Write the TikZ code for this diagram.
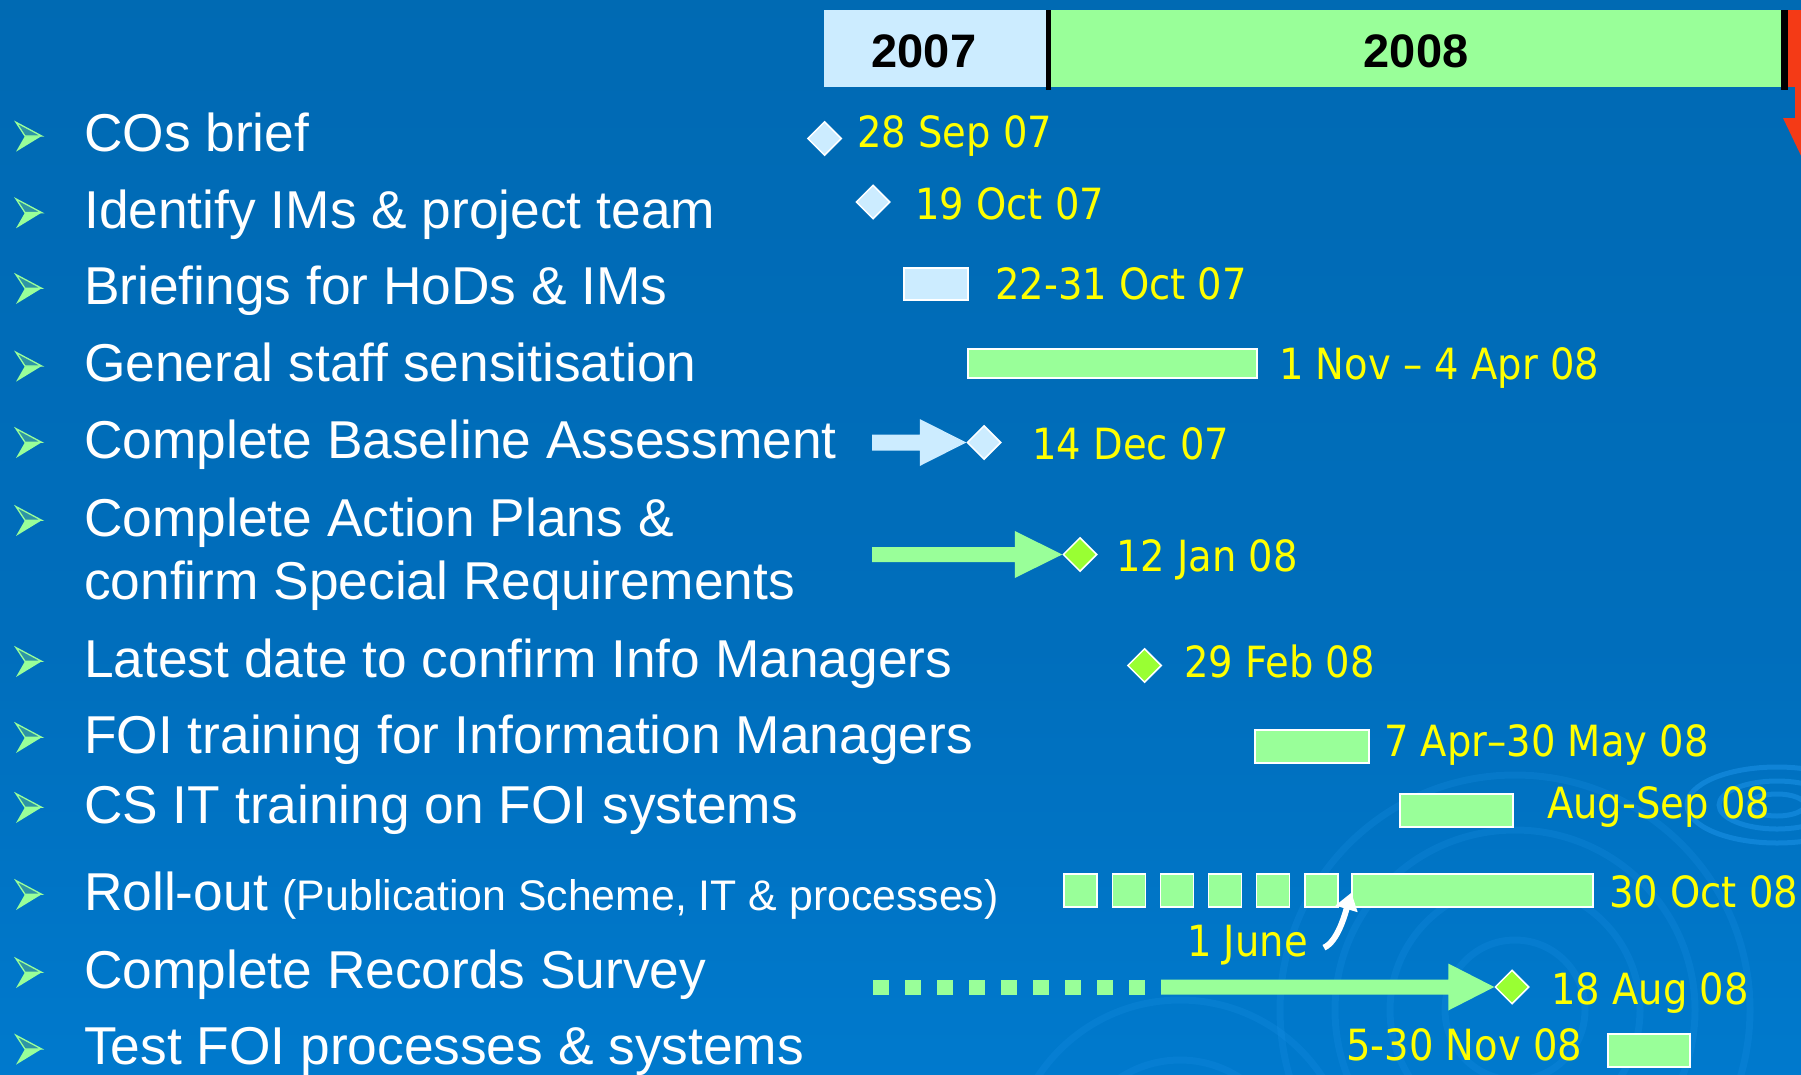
\documentclass[tikz,border=0pt]{standalone}
\usepackage{fontspec}
\setmainfont{Liberation Sans}
\newfontfamily\datefont[FakeStretch=0.895]{DejaVu Sans}
\usetikzlibrary{shapes.geometric,arrows.meta,calc}

\definecolor{bgtop}{RGB}{0,102,172}
\definecolor{bgmid}{RGB}{0,110,188}
\definecolor{bgbot}{RGB}{0,136,226}
\definecolor{lblue}{RGB}{204,236,255}
\definecolor{lgreen}{RGB}{153,255,153}
\definecolor{dgreen}{RGB}{153,255,51}
\definecolor{dyellow}{RGB}{255,255,0}
\definecolor{redc}{RGB}{244,58,22}
\definecolor{ripple}{RGB}{30,150,235}

\pgfdeclareverticalshading{bgshade}{100bp}{color(0bp)=(bgbot); color(45bp)=(bgmid); color(100bp)=(bgtop)}

\begin{document}
\begin{tikzpicture}[x=1pt,y=-1pt,
  lab/.style={anchor=base west, inner sep=0pt, text=white, font=\fontsize{53.3}{60}\selectfont},
  dat/.style={anchor=base west, inner sep=0pt, text=dyellow, font=\datefont\fontsize{43}{50}\selectfont},
  yr/.style={anchor=base, inner sep=0pt, text=black, font=\bfseries\fontsize{47}{54}\selectfont},
  msb/.style={diamond, aspect=1, minimum width=34pt, minimum height=34pt, inner sep=0pt, fill=lblue, draw=white, line width=1.5pt},
  msg/.style={msb, fill=dgreen},
  barb/.style={rectangle, inner sep=0pt, fill=lblue, draw=white, line width=1.2pt},
  barg/.style={barb, fill=lgreen},
  yearbox/.style={rectangle, inner sep=0pt, anchor=north west, minimum height=77pt},
  bul/.pic={
    \fill[lgreen] (25,-15.7) -- (41.7,-15.7) -- (16,0) -- cycle;
    \filldraw[draw=lgreen, fill=lgreen!30!bgtop, line width=1.3pt, line join=miter] (16,-29.4) -- (41.7,-15.7) -- (25,-15.7) -- cycle;
  }
]
\useasboundingbox (0,0) rectangle (1801,1074);
\clip (0,0) rectangle (1801,1074);
\shade[shading=bgshade] (0,0) rectangle (1801,1074);

% faint ripples in the background
\begin{scope}[draw=ripple, opacity=0.5, line width=5pt]
  \draw (1777,805) ellipse [x radius=28pt, y radius=11pt];
  \draw (1777,805) ellipse [x radius=58pt, y radius=24pt];
  \draw (1777,805) ellipse [x radius=90pt, y radius=38pt];
\end{scope}
\begin{scope}[draw=ripple, opacity=0.2, line width=7pt]
  \draw (1515,1010) circle [radius=70pt];
  \draw (1515,1010) circle [radius=125pt];
  \draw (1515,1010) circle [radius=180pt];
  \draw (1515,1010) circle [radius=235pt];
  \draw (1180,1170) circle [radius=110pt];
  \draw (1180,1170) circle [radius=170pt];
\end{scope}

% year bar
\node[yearbox, fill=lblue, minimum width=224pt] (y7) at (824,10) {};
\node[yearbox, fill=lgreen, minimum width=736pt] (y8) at (1048,10) {};
\fill[redc] (1786,10) rectangle (1801,87);
\fill[redc] (1795,87) -- (1795,118) -- (1783,118) -- (1815,185) -- (1850,118) -- (1850,87) -- cycle;
\draw[black, line width=5pt] (y7.north east) -- ++(0,80);
\draw[black, line width=7pt] ($(y8.north east)+(0.5,0)$) -- ++(0,80);
\node[yr] (t7) at (924,67) {2007};
\node[yr] (t8) at (1416,67) {2008};

% bullets
\foreach \b in {151.7,228.3,304,381.7,458,536,677,753,823,910,988,1064.7}
  \pic at (0,\b) {bul};

% labels
\node[lab] (l1) at (84,151.7) {COs brief};
\node[lab] (l2) at (84,228.3) {Identify IMs \& project team};
\node[lab] (l3) at (84,304) {Briefings for HoDs \& IMs};
\node[lab] (l4) at (84,381.7) {General staff sensitisation};
\node[lab] (l5) at (84,458) {Complete Baseline Assessment};
\node[lab] (l6a) at (84,536) {Complete Action Plans \&};
\node[lab] (l6b) at (84,599) {confirm Special Requirements};
\node[lab] (l7) at (84,677) {Latest date to confirm Info Managers};
\node[lab] (l8) at (84,753) {FOI training for Information Managers};
\node[lab] (l9) at (84,823) {CS IT training on FOI systems};
\node[lab] (l10) at (84,910) {Roll-out {\fontsize{42.8}{48}\selectfont (Publication Scheme, IT \& processes)}};
\node[lab] (l11) at (84,988) {Complete Records Survey};
\node[lab] (l12) at (84,1064.7) {Test FOI processes \& systems};

% row 1
\node[msb] (m1) at (824.5,138.5) {};
\node[dat] (d1) at (857,147) {28 Sep 07};
% row 2
\node[msb] (m2) at (873,202) {};
\node[dat] (d2) at (915,219) {19 Oct 07};
% row 3
\node[barb, minimum width=64pt, minimum height=32pt] (b3) at (936,284) {};
\node[dat] (d3) at (995,299) {22-31 Oct 07};
% row 4
\node[barg, minimum width=289pt, minimum height=29pt] (b4) at (1112.5,363.5) {};
\node[dat] (d4) at (1279,379) {1 Nov – 4 Apr 08};
% row 5
\coordinate (s5) at (872,442.5);
\node[msb] (m5) at (984,442.5) {};
\fill[lblue] ($(s5)+(0,-8)$) -- ($(m5.west)+(-46.5,-8)$) -- ($(m5.west)+(-46.5,-23.5)$) -- (m5.west)
  -- ($(m5.west)+(-46.5,23.5)$) -- ($(m5.west)+(-46.5,8)$) -- ($(s5)+(0,8)$) -- cycle;
\node[dat] (d5) at (1032,459) {14 Dec 07};
% row 6
\coordinate (s6) at (872,554.5);
\node[msg] (m6) at (1080,554.5) {};
\fill[lgreen] ($(s6)+(0,-7.5)$) -- ($(m6.west)+(-47.5,-7.5)$) -- ($(m6.west)+(-47.5,-23.5)$) -- (m6.west)
  -- ($(m6.west)+(-47.5,23.5)$) -- ($(m6.west)+(-47.5,7.5)$) -- ($(s6)+(0,7.5)$) -- cycle;
\node[dat] (d6) at (1116,571) {12 Jan 08};
% row 7
\node[msg] (m7) at (1144.5,665.5) {};
\node[dat] (d7) at (1184,677) {29 Feb 08};
% row 8
\node[barg, minimum width=114pt, minimum height=33pt] (b8) at (1312,746.5) {};
\node[dat] (d8) at (1384,756) {7 Apr–30 May 08};
% row 9
\node[barg, minimum width=113pt, minimum height=33pt] (b9) at (1456.5,810.5) {};
\node[dat] (d9) at (1547,818) {Aug-Sep 08};
% row 10
\foreach \k [count=\i] in {0,...,5}
  \node[barg, minimum width=33pt, minimum height=33pt] (sq\i) at (1080.5+48.2*\k,890.5) {};
\node[barg, minimum width=241pt, minimum height=33pt] (b10) at (1472.5,890.5) {};
\node[dat] (d10) at (1609,907) {30 Oct 08};
\node[dat] (june) at (1187,956) {1 June};
\draw[white, line width=6pt, -{Triangle[width=22pt,length=17pt]}]
  ($(june.east)+(16,3)$) .. controls +(14,-6) and +(-6,20) .. ($(b10.south west)+(0,-15)$);
% row 11
\foreach \k in {0,...,8}
  \fill[lgreen] (873+32*\k,979.5) rectangle ++(16,15);
\coordinate (s11) at (1161,987);
\node[msg] (m11) at (1512,987) {};
\fill[lgreen] ($(s11)+(0,-7.5)$) -- ($(m11.west)+(-46,-7.5)$) -- ($(m11.west)+(-46,-23.5)$) -- (m11.west)
  -- ($(m11.west)+(-46,23.5)$) -- ($(m11.west)+(-46,7.5)$) -- ($(s11)+(0,7.5)$) -- cycle;
\node[dat] (d11) at (1551,1004) {18 Aug 08};
% row 12
\node[dat] (d12) at (1346,1060) {5-30 Nov 08};
\node[barg, minimum width=82pt, minimum height=33pt] (b12) at (1649,1050.5) {};
\end{tikzpicture}
\end{document}
